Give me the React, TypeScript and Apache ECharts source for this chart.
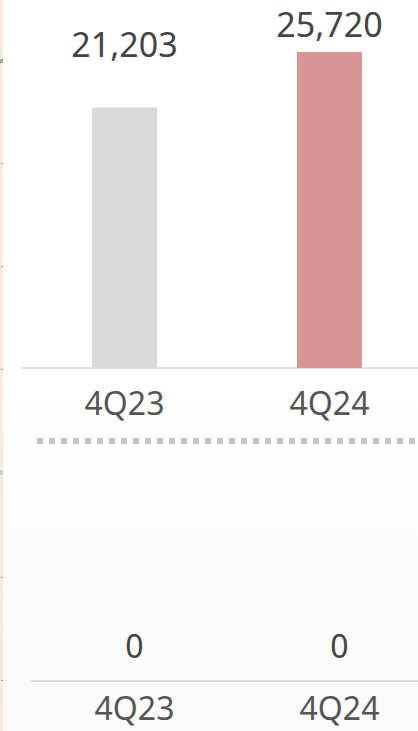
import React, { useEffect, useRef } from "react";
import * as echarts from "echarts";

const categories = ["4Q23", "4Q24"];
const topValues = [21203, 25720];
const bottomValues = [0, 0];
const barColors = ["#d9d9d9", "#d99594"];

export default function App() {
  const ref = useRef<HTMLDivElement>(null);
  useEffect(() => {
    if (!ref.current) return;
    const chart = echarts.init(ref.current, null, { renderer: "svg" });
    const font = "Noto Sans";
    const option: any = {
      animation: false,
      backgroundColor: "#ffffff",
      grid: [
        { left: 22, top: 52, width: 410, height: 316 },
        { left: 32, top: 480, width: 410, height: 201 },
      ],
      xAxis: [
        {
          gridIndex: 0,
          type: "category",
          data: categories,
          axisLine: { lineStyle: { color: "#e0e0e0", width: 2 } },
          axisTick: { show: false },
          axisLabel: { color: "#555", fontSize: 32, fontFamily: font, margin: 18 },
        },
        {
          gridIndex: 1,
          type: "category",
          data: categories,
          axisLine: { lineStyle: { color: "#dcdcdc", width: 2 } },
          axisTick: { show: false },
          axisLabel: { color: "#555", fontSize: 32, fontFamily: font, margin: 10 },
        },
      ],
      yAxis: [
        { gridIndex: 0, type: "value", min: 0, max: "dataMax", show: false },
        { gridIndex: 1, type: "value", min: 0, max: 1, show: false },
      ],
      series: [
        {
          type: "bar",
          xAxisIndex: 0,
          yAxisIndex: 0,
          barWidth: 65,
          data: topValues.map((v, i) => ({
            value: v,
            itemStyle: { color: barColors[i] },
            label: { distance: i === 0 ? 46 : 11 },
          })),
          label: {
            show: true,
            position: "top",
            color: "#444",
            fontSize: 34,
            fontFamily: font,
            formatter: (p: any) => Number(p.value).toLocaleString("en-US"),
          },
        },
        {
          type: "bar",
          xAxisIndex: 1,
          yAxisIndex: 1,
          barWidth: 65,
          data: bottomValues.map((v, i) => ({ value: v, itemStyle: { color: barColors[i] } })),
          label: {
            show: true,
            position: "top",
            distance: 20,
            color: "#444",
            fontSize: 32,
            fontFamily: font,
            formatter: (p: any) => String(p.value),
          },
        },
      ],
      graphic: [
        {
          type: "rect",
          z: -10,
          silent: true,
          shape: { x: 0, y: 380, width: 460, height: 351 },
          style: {
            fill: new echarts.graphic.LinearGradient(0, 0, 0, 1, [
              { offset: 0, color: "#ffffff" },
              { offset: 1, color: "#fafafa" },
            ]),
          },
        },
        {
          type: "rect",
          silent: true,
          shape: { x: 0, y: 0, width: 3, height: 731 },
          style: { fill: "#fde8dc" },
        },
        { type: "rect", silent: true, shape: { x: 0, y: 59, width: 3, height: 4 }, style: { fill: "#a8a8a8" } },
        { type: "rect", silent: true, shape: { x: 0, y: 470, width: 3, height: 5 }, style: { fill: "#d0d0d0" } },
        ...[163, 266, 369, 577, 680].map((y) => ({
          type: "rect",
          silent: true,
          shape: { x: 1, y: y, width: 2, height: 1 },
          style: { fill: "#a0a0a0" },
        })),
        {
          type: "line",
          silent: true,
          shape: { x1: 37, y1: 441, x2: 460, y2: 441 },
          style: { stroke: "#c4c4c4", lineWidth: 6, lineDash: [6, 6] },
        },
      ],
    };
    chart.setOption(option);
    return () => chart.dispose();
  }, []);
  return (
    <div style={{ position: "fixed", left: 0, top: 0, width: 418, height: 731, overflow: "hidden" }}>
      <div ref={ref} style={{ width: 460, height: 731 }} />
    </div>
  );
}
